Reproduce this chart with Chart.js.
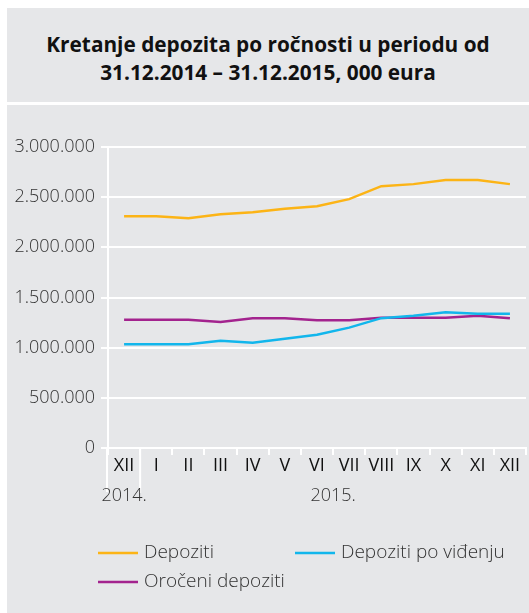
<!DOCTYPE html>
<html>
<head>
<meta charset="utf-8">
<script src="https://cdn.jsdelivr.net/npm/chart.js@4.4.1/dist/chart.umd.min.js"></script>
<style>
  html, body { margin: 0; padding: 0; background: #fff; }
  body { width: 529px; height: 613px; position: relative; overflow: hidden; }
  .panel { position: absolute; left: 7px; width: 522px; background: #e6e7e9; }
  #head { top: 8px; height: 94px; }
  #body { top: 105px; height: 508px; }
  #title {
    position: absolute; left: 7px; top: 30px; width: 522px; text-align: center;
    font-family: "Open Sans", sans-serif; font-weight: 700; font-size: 20.8px;
    line-height: 28px; color: #111;
  }
  #c { position: absolute; left: 0; top: 0; }
</style>
</head>
<body>
<div class="panel" id="head"></div>
<div class="panel" id="body"></div>
<div id="title">Kretanje depozita po ročnosti u periodu od<br>31.12.2014 – 31.12.2015, 000 eura</div>
<canvas id="c" width="529" height="613"></canvas>
<script>
// month labels (Dec 2014 .. Dec 2015)
const months = ['XII', 'I', 'II', 'III', 'IV', 'V', 'VI', 'VII', 'VIII', 'IX', 'X', 'XI', 'XII'];
// year labels and which month indexes they sit under
const years = ['2014.', '2015.'];
const yearFrom = [0, 1];
const yearTo = [0, 12];

const seriesNames = ['Depoziti', 'Depoziti po viđenju', 'Oročeni depoziti'];
const depoziti = [2310000, 2310000, 2290000, 2330000, 2350000, 2385000, 2410000, 2480000, 2610000, 2630000, 2670000, 2670000, 2630000];
const poVidjenju = [1035000, 1035000, 1035000, 1070000, 1050000, 1088000, 1128000, 1200000, 1294000, 1317000, 1354000, 1337000, 1337000];
const oroceni = [1277000, 1277000, 1277000, 1257000, 1294000, 1294000, 1274000, 1274000, 1297000, 1297000, 1297000, 1317000, 1294000];

const colors = ['#fcb416', '#12b6ec', '#a3238e'];

function fmt(v) {
    return String(v).replace(/\B(?=(\d{3})+(?!\d))/g, '.');
}

// extra drawing: year row, separator, axis extension, legend
const extras = {
    id: 'extras',
    afterDraw(chart) {
        const ctx = chart.ctx;
        const x = chart.scales.x;
        const area = chart.chartArea;
        ctx.save();
        ctx.strokeStyle = '#ffffff';
        ctx.lineWidth = 2;
        // y axis runs down past the baseline
        ctx.beginPath();
        ctx.moveTo(area.left - 1, area.bottom);
        ctx.lineTo(area.left - 1, area.bottom + 44);
        // separator between the years
        const sep = (x.getPixelForValue(0) + x.getPixelForValue(1)) / 2;
        ctx.moveTo(sep, area.bottom);
        ctx.lineTo(sep, area.bottom + 45);
        ctx.stroke();

        ctx.font = '300 18px "Open Sans"';
        ctx.fillStyle = '#333';
        ctx.textAlign = 'center';
        ctx.textBaseline = 'middle';
        years.forEach((y, i) => {
            const cx = (x.getPixelForValue(yearFrom[i]) + x.getPixelForValue(yearTo[i])) / 2;
            ctx.fillText(y, cx, area.bottom + 48);
        });

        // legend
        const spots = [[98, 553], [295, 553], [98, 582]];
        ctx.textAlign = 'left';
        ctx.font = '300 19px "Open Sans"';
        chart.data.datasets.forEach((ds, i) => {
            const [lx, ly] = spots[i];
            ctx.strokeStyle = ds.borderColor;
            ctx.lineWidth = 2.5;
            ctx.beginPath();
            ctx.moveTo(lx, ly);
            ctx.lineTo(lx + 40, ly);
            ctx.stroke();
            ctx.fillStyle = '#333';
            ctx.fillText(ds.label, lx + 46, ly);
        });
        ctx.restore();
    }
};

new Chart(document.getElementById('c'), {
    type: 'line',
    data: {
        labels: months,
        datasets: [
            { label: seriesNames[0], data: depoziti, borderColor: colors[0] },
            { label: seriesNames[1], data: poVidjenju, borderColor: colors[1] },
            { label: seriesNames[2], data: oroceni, borderColor: colors[2] }
        ].map(d => Object.assign(d, { borderWidth: 2.5, pointRadius: 0, tension: 0, fill: false }))
    },
    options: {
        responsive: false,
        animation: false,
        devicePixelRatio: 1,
        layout: { padding: { left: 0, top: 147, right: 3, bottom: 0 } },
        plugins: { legend: { display: false }, title: { display: false }, tooltip: { enabled: false } },
        scales: {
            x: {
                offset: true,
                afterFit(scale) { scale.height = 165; },
                grid: { offset: true, drawOnChartArea: false, color: '#ffffff', lineWidth: 2, tickLength: 7 },
                border: { display: true, color: '#ffffff', width: 2 },
                ticks: { color: '#111', padding: 0, maxRotation: 0, autoSkip: false, font: { family: 'Open Sans', size: 18 } }
            },
            y: {
                min: 0,
                max: 3000000,
                afterFit(scale) { scale.width = 108; },
                grid: { color: '#ffffff', lineWidth: 2, tickLength: 7 },
                border: { display: true, color: '#ffffff', width: 2 },
                ticks: { stepSize: 500000, color: '#333', padding: 6, callback: fmt,
                    font: { family: 'Open Sans', size: 18, weight: 300 } }
            }
        }
    },
    plugins: [extras]
});
</script>
</body>
</html>
